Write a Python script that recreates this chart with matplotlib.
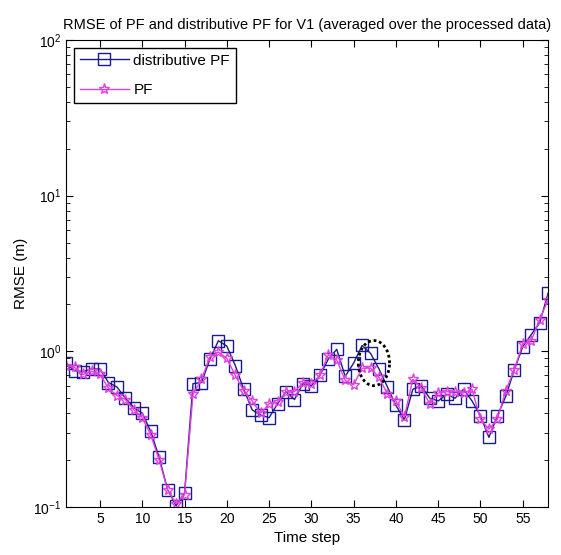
# RMSE of PF vs distributive PF, log scale
import numpy as np
import matplotlib
matplotlib.use('Agg')
import matplotlib.pyplot as plt

plt.rcParams['font.family'] = ['Liberation Sans', 'DejaVu Sans']
plt.rcParams['mathtext.default'] = 'regular'

# data
time_step = np.arange(1, 59)
rmse_dpf = [0.84, 0.75, 0.74, 0.77, 0.77, 0.63, 0.59, 0.50, 0.435, 0.40,
            0.306, 0.208, 0.129, 0.102, 0.123, 0.62, 0.63, 0.89, 1.17, 1.08,
            0.81, 0.57, 0.42, 0.39, 0.375, 0.46, 0.55, 0.49, 0.62, 0.60,
            0.70, 0.89, 1.03, 0.69, 0.84, 1.09, 0.97, 0.77, 0.59, 0.45,
            0.363, 0.57, 0.60, 0.50, 0.48, 0.53, 0.50, 0.57, 0.48, 0.385,
            0.28, 0.385, 0.515, 0.76, 1.07, 1.28, 1.52, 2.36]
rmse_pf = [0.81, 0.79, 0.71, 0.745, 0.71, 0.58, 0.52, 0.49, 0.42, 0.375,
           0.29, 0.20, 0.128, 0.105, 0.12, 0.53, 0.66, 0.92, 0.99, 0.90,
           0.70, 0.555, 0.48, 0.40, 0.46, 0.47, 0.55, 0.55, 0.63, 0.615,
           0.70, 0.95, 0.88, 0.65, 0.61, 0.78, 0.78, 0.68, 0.53, 0.48,
           0.38, 0.66, 0.58, 0.46, 0.54, 0.55, 0.55, 0.54, 0.57, 0.367,
           0.316, 0.367, 0.56, 0.76, 1.12, 1.17, 1.6, 2.14]
x_ticks = [5, 10, 15, 20, 25, 30, 35, 40, 45, 50, 55]

# dotted ring marking the gap between the two curves
ring_x, ring_y = 37.4, 0.84
ring_w, ring_h = 1.85, 0.145   # half width (steps), half height (decades)

fig = plt.figure(figsize=(5.61, 5.55), dpi=100)
ax = fig.add_axes([0.118, 0.0865, 0.859, 0.8415])

ax.plot(time_step, rmse_dpf, color='#1a1a8a', lw=1.0, marker='s', markersize=8,
        markerfacecolor='none', markeredgecolor='#1a1a8a', markeredgewidth=1.0,
        label='distributive PF')
ax.plot(time_step, rmse_pf, color='#e040e0', lw=1.0, marker='*', markersize=8,
        markerfacecolor='none', markeredgecolor='#e040e0', markeredgewidth=1.0,
        label='PF')

t = np.linspace(0, 2 * np.pi, 200)
ax.plot(ring_x + ring_w * np.cos(t), ring_y * 10 ** (ring_h * np.sin(t)),
        color='black', lw=2.0, ls=(0, (1, 1)))

ax.set_yscale('log')
ax.set_xlim(1, 58)
ax.set_ylim(0.1, 100)
ax.set_xticks(x_ticks)
ax.tick_params(which='both', direction='in', top=True, right=True, labelsize=10)
ax.tick_params(which='major', length=5)
ax.tick_params(which='minor', length=3)

ax.set_xlabel('Time step', fontsize=11)
ax.set_ylabel('RMSE (m)', fontsize=11)
ax.set_title('RMSE of PF and distributive PF for V1 (averaged over the processed data)',
             fontsize=10.5, pad=8)

leg = ax.legend(loc='upper left', fontsize=11, fancybox=False, framealpha=1,
                edgecolor='black', borderaxespad=0.5, handlelength=3.2,
                labelspacing=1.0, handletextpad=0.3)
leg.get_frame().set_linewidth(1.0)

fig.savefig('out.png', dpi=100)
